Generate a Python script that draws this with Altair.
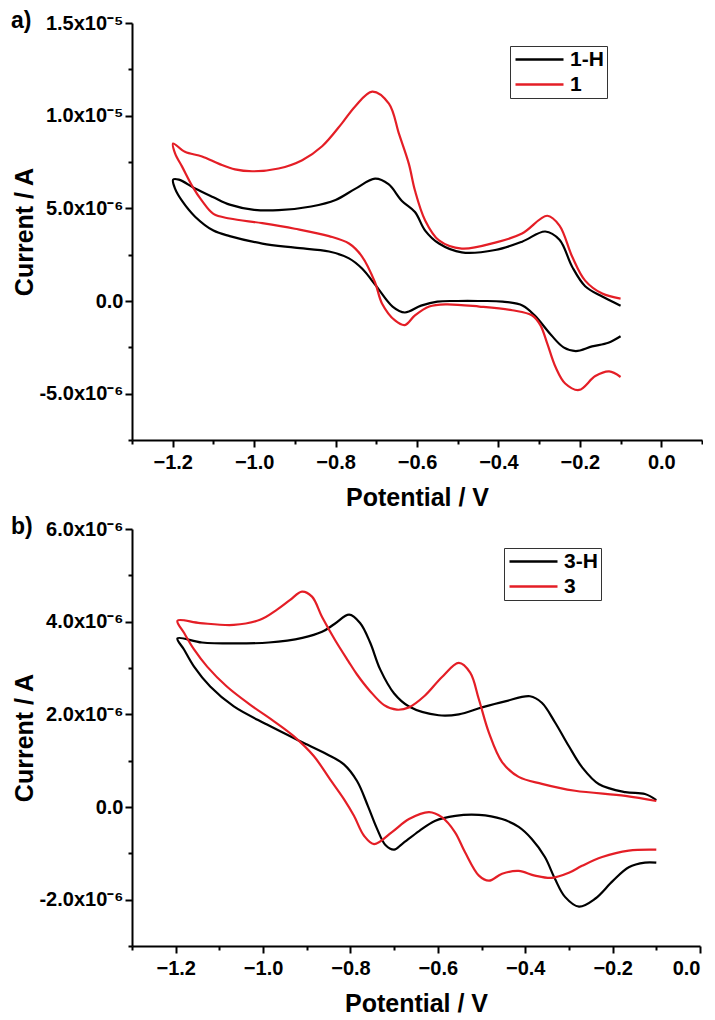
import altair as alt
import pandas as pd

# ---------------- panel a) : 1-H (black) and 1 (red) ----------------
# potential (V) and current (units of 1e-6 A), listed in scan order
A_1H_E = [-0.10, -0.13, -0.17, -0.21, -0.24, -0.27, -0.31, -0.34, -0.39, -0.45, -0.50, -0.55,
          -0.59, -0.63, -0.66, -0.70, -0.735, -0.767, -0.816, -0.90, -0.98, -1.06, -1.10,
          -1.145, -1.177, -1.194, -1.199,
          -1.185, -1.145, -1.10, -1.06, -1.00, -0.94, -0.86, -0.80, -0.752, -0.703, -0.67,
          -0.637, -0.605, -0.58, -0.546, -0.49, -0.408, -0.342, -0.285, -0.25, -0.219,
          -0.187, -0.145, -0.10]
A_1H_I = [-1.90, -2.25, -2.45, -2.70, -2.50, -1.85, -0.80, -0.25, -0.03, 0.00, 0.00, -0.03,
          -0.25, -0.62, -0.30, 0.80, 1.75, 2.30, 2.67, 2.88, 3.10, 3.50, 3.80,
          4.55, 5.40, 6.05, 6.55,
          6.55, 6.07, 5.60, 5.20, 4.92, 4.90, 5.10, 5.45, 6.05, 6.60, 6.30,
          5.40, 4.80, 3.80, 3.10, 2.62, 2.75, 3.20, 3.75, 3.30, 1.85,
          0.80, 0.24, -0.25]

A_1_E = [-0.10, -0.128, -0.162, -0.202, -0.236, -0.26, -0.28, -0.297, -0.317, -0.366, -0.447,
         -0.53, -0.57, -0.605, -0.63, -0.654, -0.686, -0.703, -0.735, -0.767, -0.816, -0.90,
         -0.98, -1.06, -1.10, -1.128, -1.152, -1.177, -1.194, -1.199,
         -1.17, -1.128, -1.086, -1.047, -1.005, -0.94, -0.882, -0.833, -0.784, -0.752, -0.71,
         -0.669, -0.644, -0.62, -0.605, -0.58, -0.546, -0.49, -0.408, -0.342, -0.28, -0.25,
         -0.219, -0.187, -0.145, -0.10]
A_1_I = [-4.10, -3.80, -4.05, -4.80, -4.45, -3.55, -2.30, -1.30, -0.78, -0.50, -0.30,
         -0.18, -0.30, -0.78, -1.30, -1.05, -0.13, 1.00, 2.40, 3.10, 3.50, 3.90,
         4.20, 4.45, 4.70, 5.40, 6.20, 7.25, 7.95, 8.50,
         8.05, 7.80, 7.40, 7.10, 7.00, 7.15, 7.60, 8.35, 9.60, 10.50, 11.30,
         10.65, 9.00, 7.40, 5.96, 4.35, 3.27, 2.83, 3.15, 3.64, 4.60, 4.07,
         2.40, 1.10, 0.40, 0.13]

# ---------------- panel b) : 3-H (black) and 3 (red) ----------------
B_3H_E = [-0.10, -0.126, -0.163, -0.20, -0.24, -0.277, -0.309, -0.332, -0.355, -0.385, -0.415,
          -0.453, -0.506, -0.56, -0.607, -0.643, -0.682, -0.70, -0.72, -0.74, -0.76, -0.785,
          -0.815, -0.854, -0.915, -0.991, -1.067, -1.121, -1.158, -1.181, -1.196,
          -1.14, -1.064, -0.987, -0.91, -0.865, -0.835, -0.803, -0.778, -0.755, -0.732,
          -0.70, -0.666, -0.598, -0.552, -0.499, -0.446, -0.389, -0.362, -0.332, -0.30,
          -0.27, -0.231, -0.171, -0.126, -0.10]
B_3H_I = [-1.20, -1.20, -1.30, -1.60, -1.98, -2.15, -1.94, -1.55, -1.08, -0.69, -0.43,
          -0.26, -0.17, -0.19, -0.30, -0.52, -0.80, -0.92, -0.82, -0.45, 0.02, 0.56,
          0.92, 1.14, 1.42, 1.78, 2.17, 2.60, 3.03, 3.40, 3.64,
          3.55, 3.53, 3.55, 3.65, 3.78, 3.96, 4.15, 3.97, 3.55, 2.97,
          2.45, 2.17, 1.98, 2.00, 2.15, 2.28, 2.39, 2.25, 1.83, 1.31,
          0.86, 0.49, 0.32, 0.28, 0.15]

B_3_E = [-0.10, -0.163, -0.224, -0.27, -0.30, -0.339, -0.378, -0.415, -0.453, -0.483, -0.506,
         -0.538, -0.561, -0.591, -0.62, -0.666, -0.705, -0.746, -0.769, -0.792, -0.815, -0.847,
         -0.884, -0.93, -0.975, -1.03, -1.083, -1.128, -1.158, -1.181, -1.196,
         -1.144, -1.067, -1.007, -0.968, -0.938, -0.911, -0.888, -0.865, -0.835, -0.805,
         -0.785, -0.755, -0.723, -0.694, -0.666, -0.63, -0.591, -0.552, -0.526, -0.506,
         -0.483, -0.453, -0.415, -0.362, -0.286, -0.171, -0.10]
B_3_I = [-0.92, -0.94, -1.08, -1.27, -1.42, -1.53, -1.48, -1.38, -1.44, -1.59, -1.48,
         -0.97, -0.54, -0.22, -0.11, -0.26, -0.54, -0.80, -0.62, -0.19, 0.17, 0.60,
         1.10, 1.53, 1.85, 2.21, 2.60, 3.03, 3.40, 3.76, 4.02,
         3.97, 3.93, 4.04, 4.26, 4.47, 4.65, 4.54, 4.10, 3.60, 3.15,
         2.86, 2.50, 2.20, 2.10, 2.15, 2.40, 2.80, 3.11, 2.90, 2.32,
         1.60, 0.97, 0.65, 0.50, 0.35, 0.24, 0.13]

# axis ticks and labels
A_X_MAJOR = [-1.2, -1.0, -0.8, -0.6, -0.4, -0.2, 0.0]
A_X_MINOR = [-1.3, -1.1, -0.9, -0.7, -0.5, -0.3, -0.1, 0.1]
A_Y_MAJOR = [-5, 0, 5, 10, 15]
A_Y_LABELS = ["-5.0x10\u207b\u2076", "0.0", "5.0x10\u207b\u2076", "1.0x10\u207b\u2075", "1.5x10\u207b\u2075"]
A_Y_MINOR = [-7.5, -2.5, 2.5, 7.5, 12.5]

B_X_MAJOR = [-1.2, -1.0, -0.8, -0.6, -0.4, -0.2, 0.0]
B_X_MINOR = [-1.3, -1.1, -0.9, -0.7, -0.5, -0.3, -0.1]
B_Y_MAJOR = [-2, 0, 2, 4, 6]
B_Y_LABELS = ["-2.0x10\u207b\u2076", "0.0", "2.0x10\u207b\u2076", "4.0x10\u207b\u2076", "6.0x10\u207b\u2076"]
B_Y_MINOR = [-3, -1, 1, 3, 5]

FONT = "Liberation Sans"
BLACK = "#000000"
RED = "#e41e26"


def frame(series):
    rows = []
    for name, es, cs in series:
        for k, (e, c) in enumerate(zip(es, cs)):
            rows.append({"series": name, "idx": k, "E": e, "I": c})
    return pd.DataFrame(rows)


def label_expr(values, labels):
    expr = "''"
    for v, lab in zip(values, labels):
        expr = f"datum.value == {v} ? '{lab}' : ({expr})"
    return expr


def panel(df, names, xdom, ydom, xmaj, xmin, ymaj, ylab, ymin, legend_xy, tag, width):
    xs = alt.Scale(domain=xdom, nice=False, zero=False)
    ys = alt.Scale(domain=ydom, nice=False, zero=False)
    lines = alt.Chart(df).mark_line(strokeWidth=2.2, interpolate="catmull-rom").encode(
        x=alt.X("E:Q", scale=xs, axis=alt.Axis(values=xmaj, format=".1f", title="Potential / V",
                                               tickSize=7, labelPadding=5, titlePadding=13,
                                               orient="bottom")),
        y=alt.Y("I:Q", scale=ys, axis=alt.Axis(values=ymaj, labelExpr=label_expr(ymaj, ylab),
                                               title="Current / A", tickSize=7, labelPadding=2,
                                               titlePadding=1, orient="left")),
        color=alt.Color("series:N", title=None,
                        scale=alt.Scale(domain=names, range=[BLACK, RED]),
                        legend=alt.Legend(orient="none", legendX=legend_xy[0], legendY=legend_xy[1],
                                          symbolType="M-1,0L5,0", symbolSize=256, symbolStrokeWidth=2.5,
                                          labelFont=FONT, labelFontSize=21, labelFontWeight="bold",
                                          labelColor="black", strokeColor="#333333", fillColor="white",
                                          padding=3, rowPadding=3, labelOffset=36)),
        order="idx:Q",
    )
    minor = alt.Chart(df).mark_line(opacity=0).encode(
        x=alt.X("E:Q", scale=xs, axis=alt.Axis(values=xmin, labels=False, tickSize=4, domain=False,
                                               title=None, orient="bottom")),
        y=alt.Y("I:Q", scale=ys, axis=alt.Axis(values=ymin, labels=False, tickSize=4, domain=False,
                                               title=None, orient="left")),
        detail="series:N",
        order="idx:Q",
    )
    label = alt.Chart(pd.DataFrame({"t": [tag]})).mark_text(
        align="left", baseline="middle", font=FONT, fontSize=23, fontWeight="bold", color="black"
    ).encode(x=alt.value(-121), y=alt.value(-2), text="t:N")
    return alt.layer(lines, minor, label).resolve_axis(x="independent", y="independent").properties(
        width=width, height=417)


df_a = frame([("1-H", A_1H_E, A_1H_I), ("1", A_1_E, A_1_I)])
df_b = frame([("3-H", B_3H_E, B_3H_I), ("3", B_3_E, B_3_I)])

pa = panel(df_a, ["1-H", "1"], [-1.3, 0.1], [-7.5, 15], A_X_MAJOR, A_X_MINOR, A_Y_MAJOR, A_Y_LABELS,
           A_Y_MINOR, (378, 23), "a)", 570)
pb = panel(df_b, ["3-H", "3"], [-1.3, 0.0], [-3, 6], B_X_MAJOR, B_X_MINOR, B_Y_MAJOR, B_Y_LABELS,
           B_Y_MINOR, (372, 19), "b)", 568)

chart = alt.vconcat(pa, pb, spacing=6).resolve_scale(color="independent").properties(
    padding={"left": 3, "top": 2, "right": 0, "bottom": 0}
).configure(
    background="white"
).configure_view(
    stroke=None
).configure_axis(
    domainColor="black", domainWidth=2, tickColor="black", tickWidth=2, grid=False,
    labelFont=FONT, labelFontSize=20, labelFontWeight="bold", labelColor="black",
    titleFont=FONT, titleFontSize=25, titleFontWeight="bold", titleColor="black"
)

chart.save("out.html", embed_options={"renderer": "svg", "actions": False})
